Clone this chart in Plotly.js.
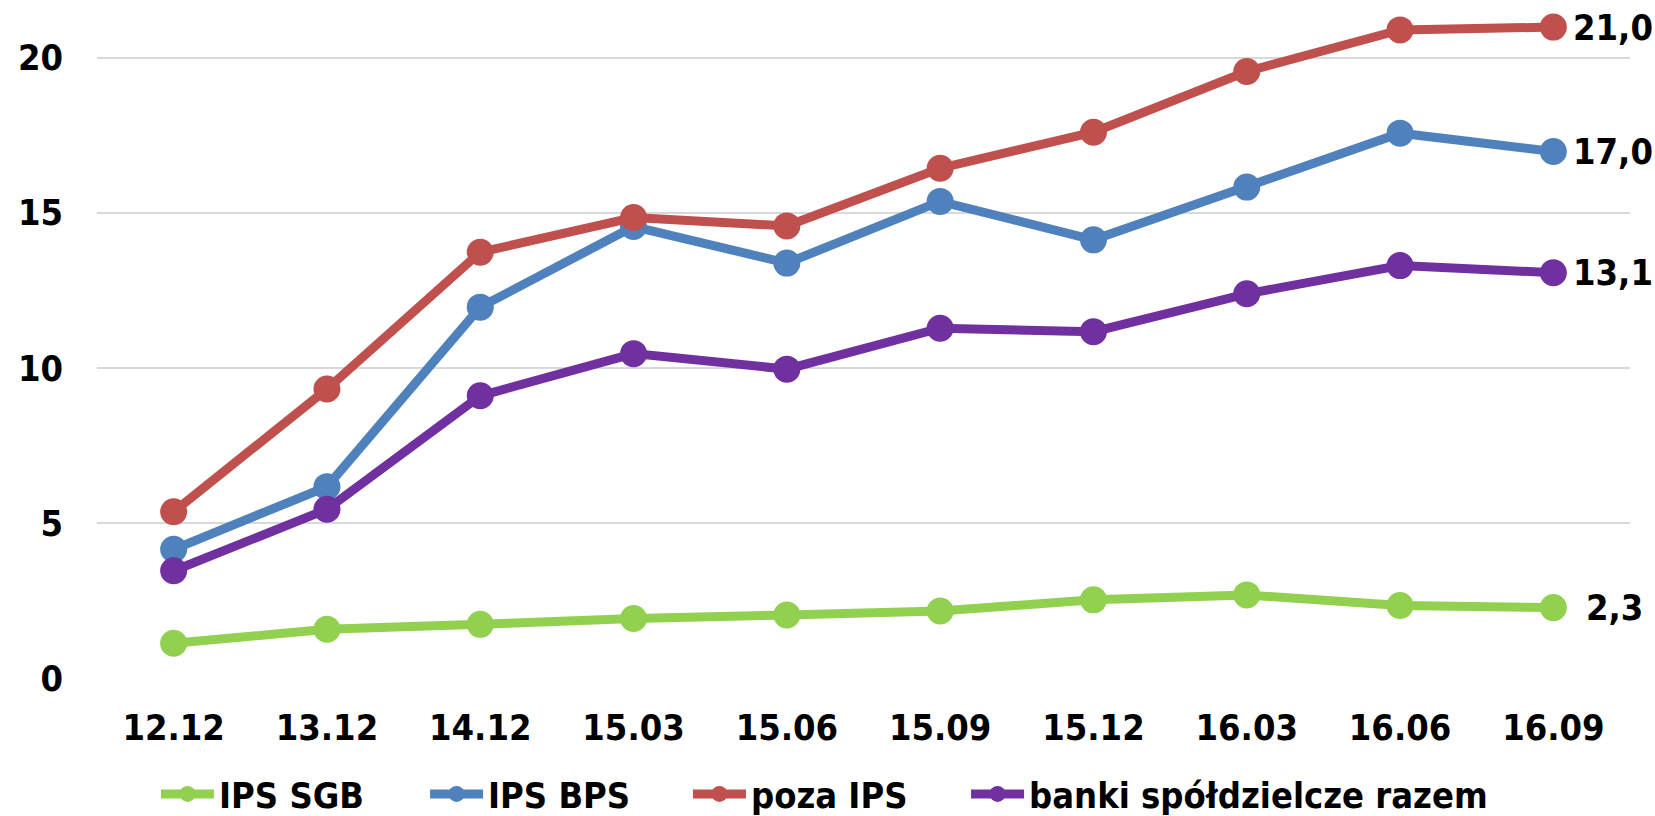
<!DOCTYPE html>
<html>
<head>
<meta charset="utf-8">
<script src="https://cdn.plot.ly/plotly-3.0.1.min.js"></script>
<style>
  html, body { margin: 0; padding: 0; background: #ffffff; }
  #chart { width: 1655px; height: 816px; }
</style>
</head>
<body>
<div id="chart"></div>
<script>
// ---- data ----
const categories = ["12.12", "13.12", "14.12", "15.03", "15.06", "15.09", "15.12", "16.03", "16.06", "16.09"];
const seriesNames = ["IPS SGB", "IPS BPS", "poza IPS", "banki spółdzielcze razem"];
const ipsSgb   = [1.12, 1.57, 1.73, 1.92, 2.03, 2.16, 2.52, 2.68, 2.34, 2.27];
const ipsBps   = [4.15, 6.17, 11.96, 14.56, 13.38, 15.37, 14.13, 15.83, 17.57, 16.98];
const pozaIps  = [5.36, 9.32, 13.73, 14.85, 14.58, 16.44, 17.60, 19.56, 20.90, 20.99];
const razem    = [3.46, 5.44, 9.10, 10.46, 9.96, 11.28, 11.17, 12.39, 13.30, 13.07];
const yTicks   = [0, 5, 10, 15, 20];

// ---- styles ----
const colors = ["#92D050", "#4F81BD", "#C0504D", "#7030A0"];
const labelShift = [31, 18, 18, 18];
const legendX = [0.0385, 0.2140, 0.3855, 0.5669];
const FONT = "DejaVu Sans Condensed, DejaVu Sans, sans-serif";
const allSeries = [ipsSgb, ipsBps, pozaIps, razem];
const legendIds = ["legend", "legend2", "legend3", "legend4"];

const traces = allSeries.map((vals, i) => ({
  type: "scatter",
  mode: "lines+markers",
  name: seriesNames[i],
  legend: legendIds[i],
  x: categories,
  y: vals,
  line: { color: colors[i], width: 9 },
  marker: { color: colors[i], size: 27 },
  cliponaxis: false,
  hoverinfo: "x+y+name"
}));

const lastIdx = categories.length - 1;
const annotations = allSeries.map((vals, i) => ({
  x: lastIdx,              // category index of the last point
  y: vals[lastIdx],
  xref: "x", yref: "y",
  text: vals[lastIdx].toFixed(1).replace(".", ","),
  showarrow: false,
  xanchor: "left",
  yanchor: "middle",
  xshift: labelShift[i],
  font: { family: FONT, size: 36, color: "#000000", weight: "bold" }
}));

const layout = {
  width: 1655,
  height: 816,
  margin: { l: 97, r: 25, t: 2, b: 138, autoexpand: false },
  paper_bgcolor: "#ffffff",
  plot_bgcolor: "#ffffff",
  showlegend: true,
  font: { family: FONT, size: 36, color: "#000000", weight: "bold" },
  xaxis: {
    type: "category",
    range: [-0.5, categories.length - 0.5],
    showgrid: false,
    zeroline: false,
    showline: false,
    ticks: "",
    tickangle: 0,
    automargin: false,
    ticklabelstandoff: 25,
    tickfont: { family: FONT, size: 36, color: "#000000", weight: "bold" },
    fixedrange: true
  },
  yaxis: {
    range: [0, 21.8],
    tickvals: yTicks,
    ticktext: yTicks.map(String),
    showgrid: true,
    gridcolor: "#D9D9D9",
    gridwidth: 1.5,
    zeroline: false,
    showline: false,
    ticks: "",
    automargin: false,
    ticklabelstandoff: 33,
    tickfont: { family: FONT, size: 36, color: "#000000", weight: "bold" },
    fixedrange: true
  },
  annotations: annotations
};

legendIds.forEach((id, i) => {
  layout[id] = {
    orientation: "h",
    x: legendX[i],
    xanchor: "left",
    y: -0.1716,
    yanchor: "middle",
    itemwidth: 53,
    font: { family: FONT, size: 36, color: "#000000", weight: "bold" },
    bgcolor: "rgba(0,0,0,0)"
  };
});

Plotly.newPlot("chart", traces, layout, { displayModeBar: false, staticPlot: true });
</script>
</body>
</html>
